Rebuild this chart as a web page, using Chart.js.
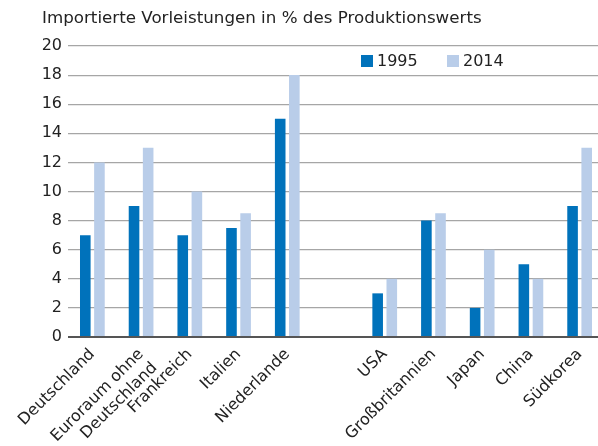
<!DOCTYPE html>
<html>
<head>
<meta charset="utf-8">
<script src="https://cdn.jsdelivr.net/npm/chart.js@4"></script>
<style>
  body { margin: 0; overflow: hidden; background: #fff; }
  #wrap { position: relative; width: 604px; height: 446px; }
  #title {
    position: absolute; left: 42px; top: 7px;
    font: 16.7px "DejaVu Sans", sans-serif; color: #222;
  }
</style>
</head>
<body>
<div id="wrap">
  <div id="title">Importierte Vorleistungen in % des Produktionswerts</div>
  <canvas id="chart"></canvas>
</div>
<script>
const categories = [
    "Deutschland", ["Euroraum ohne", "Deutschland"], "Frankreich", "Italien",
    "Niederlande", "", "USA", "Großbritannien", "Japan", "China", "Südkorea",
];
const values1995 = [7, 9, 7, 7.5, 15, null, 3, 8, 2, 5, 9];
const values2014 = [12, 13, 10, 8.5, 18, null, 4, 8.5, 6, 4, 13];
const seriesLabels = ["1995", "2014"];
const seriesColors = ["#0072bb", "#b9cde9"];

const textColor = "#222";
const font = { family: "'DejaVu Sans', sans-serif", size: 16 };

// legend sits inside the plot, drawn by hand
const insideLegend = {
    id: "insideLegend",
    afterDraw(chart) {
        const c = chart.ctx;
        const xs = [361, 447];
        c.save();
        c.font = "16px 'DejaVu Sans', sans-serif";
        c.textBaseline = "middle";
        chart.data.datasets.forEach((ds, i) => {
            c.fillStyle = ds.backgroundColor;
            c.fillRect(xs[i], 55, 12, 12);
            c.fillStyle = textColor;
            c.fillText(ds.label, xs[i] + 16, 62);
        });
        c.restore();
    },
};

new Chart(document.getElementById("chart").getContext("2d"), {
    type: "bar",
    data: {
        labels: categories,
        datasets: [
            {
                label: seriesLabels[0],
                data: values1995,
                backgroundColor: seriesColors[0],
            },
            {
                label: seriesLabels[1],
                data: values2014,
                backgroundColor: seriesColors[1],
            },
        ],
    },
    options: {
        responsive: true,
        maintainAspectRatio: false,
        animation: false,
        categoryPercentage: 0.58,
        barPercentage: 0.75,
        layout: { padding: { top: 46, left: 0, right: 0, bottom: 0 } },
        plugins: {
            legend: { display: false },
            tooltip: { enabled: false },
        },
        scales: {
            x: {
                grid: { display: false },
                border: { display: false },
                ticks: {
                    color: textColor,
                    font: font,
                    maxRotation: 45,
                    minRotation: 45,
                    autoSkip: false,
                    padding: 0,
                },
                afterFit(scale) {
                    scale.height = 109;
                },
            },
            y: {
                min: 0,
                max: 20,
                border: { display: false },
                grid: {
                    drawTicks: false,
                    color: (ctx) => (ctx.tick && ctx.tick.value === 0 ? "#555" : "#a6a6a6"),
                    lineWidth: (ctx) => (ctx.tick && ctx.tick.value === 0 ? 2 : 1.2),
                },
                ticks: {
                    stepSize: 2,
                    color: textColor,
                    font: font,
                    padding: 6,
                },
                afterFit(scale) {
                    scale.width = 68;
                },
            },
        },
    },
    plugins: [insideLegend],
});
</script>
</body>
</html>
